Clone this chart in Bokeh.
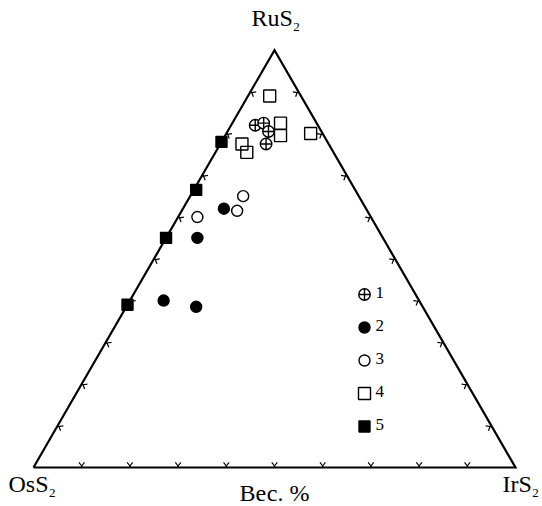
import numpy as np
from bokeh.plotting import figure
from bokeh.models import Range1d
from bokeh.core.properties import value
from bokeh.embed import file_html
from bokeh.resources import INLINE

# ---- data: wt% of RuS2 and IrS2 (OsS2 = 100 - RuS2 - IrS2) ----
s1_ru = [82.0, 82.5, 80.5, 77.5]
s1_ir = [5.0, 6.5, 8.5, 9.5]

s2_ru = [62.0, 55.0, 40.0, 38.5]
s2_ir = [8.5, 6.5, 7.0, 14.5]

s3_ru = [60.0, 65.0, 61.5]
s3_ir = [4.0, 11.0, 11.5]

s4_ru = [89.0, 82.5, 79.5, 80.0, 77.5, 75.5]
s4_ir = [4.5, 10.0, 11.5, 17.5, 4.5, 6.5]

s5_ru = [78.0, 66.5, 55.0, 39.0]
s5_ir = [0.0, 0.5, 0.0, 0.0]

legend_labels = ["1", "2", "3", "4", "5"]
vertex_names = ["RuS", "OsS", "IrS"]   # each followed by subscript "2"
axis_title = "Вес. %"
tick_values = [10, 20, 30, 40, 50, 60, 70, 80, 90]

# ---- geometry ----
H = np.sqrt(3) / 2
PX = 100 / 482.0          # data units per screen pixel
FONT = "Liberation Serif"
TXT_UP = 8                # baseline correction (px)


def to_xy(ru, ir):
    ru = np.asarray(ru, float)
    ir = np.asarray(ir, float)
    return ir + ru / 2, ru * H


p = figure(width=542, height=506, output_backend="svg", toolbar_location=None,
           x_range=Range1d(-33 * PX, 509 * PX), y_range=Range1d(-39 * PX, 467 * PX),
           x_axis_type=None, y_axis_type=None, min_border=0)
p.grid.visible = False
p.outline_line_color = None
p.background_fill_color = "white"

# triangle
tri_x, tri_y = to_xy([0, 0, 100, 0], [0, 100, 0, 0])
p.line(tri_x, tri_y, line_color="black", line_width=2.2, line_join="miter")

# ticks: small "Y" marks pointing inward on each side
sides = [
    (to_xy(0, 0), to_xy(0, 100), np.array([0.0, 1.0])),        # base OsS2 -> IrS2
    (to_xy(0, 0), to_xy(100, 0), np.array([H, -0.5])),         # left OsS2 -> RuS2
    (to_xy(0, 100), to_xy(100, 0), np.array([-H, -0.5])),      # right IrS2 -> RuS2
]
stem = 1.5 * PX
arm = 4.5 * PX
ang = np.radians(38)
txs, tys = [], []
for (a, b, n) in sides:
    a = np.array([float(a[0]), float(a[1])])
    b = np.array([float(b[0]), float(b[1])])
    for t in tick_values:
        P = a + (b - a) * t / 100.0
        Q = P + n * stem
        for s in (ang, -ang):
            r = np.array([n[0] * np.cos(s) - n[1] * np.sin(s), n[0] * np.sin(s) + n[1] * np.cos(s)])
            E = Q + r * arm
            txs.append([P[0], Q[0], E[0]])
            tys.append([P[1], Q[1], E[1]])
p.multi_line(txs, tys, line_color="black", line_width=1.2)

# data points
lw = 1.4
x, y = to_xy(s1_ru, s1_ir)
p.scatter(x, y, marker="circle_cross", size=11.5, fill_color="white", line_color="black", line_width=lw)
x, y = to_xy(s2_ru, s2_ir)
p.scatter(x, y, marker="circle", size=11, fill_color="black", line_color="black", line_width=lw)
x, y = to_xy(s3_ru, s3_ir)
p.scatter(x, y, marker="circle", size=11, fill_color="white", line_color="black", line_width=lw)
x, y = to_xy(s4_ru, s4_ir)
p.scatter(x, y, marker="square", size=12, fill_color=None, line_color="black", line_width=lw)
x, y = to_xy(s5_ru, s5_ir)
p.scatter(x, y, marker="square", size=11, fill_color="black", line_color="black", line_width=lw)

# manual legend
leg_x = 331 * PX
leg_y0 = 173 * PX
leg_dy = 33 * PX
ly = [leg_y0 - i * leg_dy for i in range(5)]
styles = [("circle_cross", "white", 11.5), ("circle", "black", 11), ("circle", "white", 11),
          ("square", None, 12), ("square", "black", 11)]
for i, (m, fc, sz) in enumerate(styles):
    p.scatter([leg_x], [ly[i]], marker=m, size=sz, fill_color=fc, line_color="black", line_width=lw)
p.text([leg_x + 11 * PX] * 5, [v + (TXT_UP - 6) * PX for v in ly], text=legend_labels,
       text_font=value(FONT), text_font_size="17px", text_color="black",
       text_align="left", text_baseline="alphabetic")

# vertex labels with subscript 2
adv = {"R": 667, "u": 500, "S": 556, "O": 722, "s": 389, "I": 333, "r": 333}
vx, vy = to_xy([100, 0, 0], [0, 0, 100])
offsets = [(-23, 24), (-25, -24), (-13, -24)]   # pixel offsets of label start/baseline
for name, X, Y, (dx, dy) in zip(vertex_names, vx, vy, offsets):
    w = sum(adv[c] for c in name) / 1000.0 * 24
    p.text([X + dx * PX], [Y + (dy + TXT_UP) * PX], text=[name], text_font=value(FONT),
           text_font_size="24px", text_color="black", text_align="left",
           text_baseline="alphabetic")
    p.text([X + (dx + w + 0.5) * PX], [Y + (dy - 9 + TXT_UP) * PX], text=["2"], text_font=value(FONT),
           text_font_size="13px", text_color="black", text_align="left",
           text_baseline="alphabetic")

# bottom caption
bx, by = to_xy([0], [50])
p.text(bx, by + (-33 + TXT_UP) * PX, text=[axis_title], text_font=value(FONT), text_font_size="24px",
       text_color="black", text_align="center", text_baseline="alphabetic")

open("out.html", "w").write(file_html(p, INLINE))
